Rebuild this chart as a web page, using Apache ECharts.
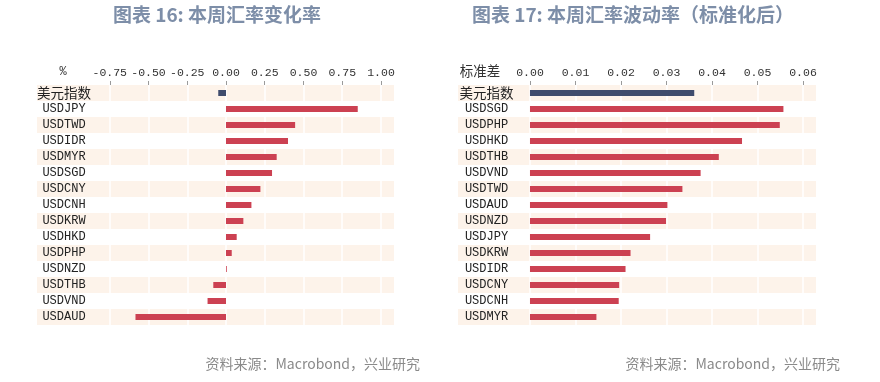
<!DOCTYPE html>
<html>
<head>
<meta charset="utf-8">
<script src="https://cdn.jsdelivr.net/npm/echarts@6/dist/echarts.min.js"></script>
<style>html,body{margin:0;padding:0;background:#fff}#c{width:880px;height:382px}</style>
</head>
<body>
<div id="c"></div>
<script>
// Chart 16: weekly FX change (%)
const changeCategories = ['美元指数','USDJPY','USDTWD','USDIDR','USDMYR','USDSGD','USDCNY','USDCNH','USDKRW','USDHKD','USDPHP','USDNZD','USDTHB','USDVND','USDAUD'];
const changeValues = [-0.05, 0.85, 0.446, 0.40, 0.327, 0.297, 0.222, 0.164, 0.112, 0.069, 0.037, 0.005, -0.082, -0.119, -0.584];
const changeTicks = [-0.75, -0.5, -0.25, 0, 0.25, 0.5, 0.75, 1.0];

// Chart 17: weekly FX volatility (standardized)
const volCategories = ['美元指数','USDSGD','USDPHP','USDHKD','USDTHB','USDVND','USDTWD','USDAUD','USDNZD','USDJPY','USDKRW','USDIDR','USDCNY','USDCNH','USDMYR'];
const volValues = [0.0361, 0.0557, 0.0549, 0.0466, 0.0415, 0.0375, 0.0335, 0.0302, 0.0299, 0.0264, 0.0221, 0.0210, 0.0196, 0.0195, 0.0146];
const volTicks = [0, 0.01, 0.02, 0.03, 0.04, 0.05, 0.06];

const NAVY = '#3f4c6d', RED = '#cc4152', BAND = '#fdf3ea';
const LBL_FONT = "'Liberation Mono','DejaVu Sans Mono','Noto Sans CJK SC',monospace";
const CJK_FONT = "'Noto Sans CJK SC',sans-serif";

function xAxisCfg(gridIndex, min, max, ticks, fmt) {
  return {
    type: 'value', gridIndex, position: 'top', min, max, z: 1,
    axisLine: { show: false },
    axisTick: { show: true, customValues: ticks, length: 4, lineStyle: { color: '#9a9a9a' } },
    axisLabel: { customValues: ticks, formatter: v => v.toFixed(fmt), fontSize: 11.5, color: '#333', margin: 6, fontFamily: LBL_FONT },
    splitLine: { show: true, lineStyle: { color: '#ffffff', width: 1.5 } }
  };
}
function yAxisCfg(gridIndex, cats, margin) {
  return {
    type: 'category', gridIndex, data: cats, inverse: true, z: 0,
    axisLine: { show: false }, axisTick: { show: false, interval: 0 },
    axisLabel: {
      interval: 0, inside: true, align: 'center', margin, fontSize: 12, color: '#222', fontFamily: LBL_FONT,
      formatter: v => (/^[A-Z]/.test(v) ? v : '{c|' + v + '}'),
      rich: { c: { fontSize: 13.5, fontFamily: CJK_FONT, color: '#222' } }
    },
    splitArea: { show: true, interval: 0, areaStyle: { color: [BAND, '#ffffff'] } },
    splitLine: { show: false }
  };
}
const colorFn = p => (p.dataIndex === 0 ? NAVY : RED);

const chart = echarts.init(document.getElementById('c'), null, { renderer: 'canvas' });
chart.setOption({
  animation: false,
  backgroundColor: '#fff',
  title: [
    { text: '图表 16: 本周汇率变化率', left: 217, top: 5, padding: 0, textAlign: 'center', textStyle: { fontSize: 19, fontWeight: 'bold', color: '#7d8ea8', fontFamily: CJK_FONT } },
    { text: '图表 17: 本周汇率波动率（标准化后）', left: 633, top: 5, padding: 0, textAlign: 'center', textStyle: { fontSize: 19, fontWeight: 'bold', color: '#7d8ea8', fontFamily: CJK_FONT } },
    { text: '%', left: 63, top: 66, padding: 0, textAlign: 'center', textStyle: { fontSize: 12, fontWeight: 'normal', color: '#333', fontFamily: LBL_FONT } },
    { text: '标准差', left: 480, top: 64, padding: 0, textAlign: 'center', textStyle: { fontSize: 13.5, fontWeight: 'normal', color: '#333', fontFamily: CJK_FONT } },
    { text: '资料来源：Macrobond，兴业研究', right: 460, top: 357, padding: 0, textStyle: { fontSize: 14, fontWeight: 'normal', color: '#8a8a8a', fontFamily: CJK_FONT } },
    { text: '资料来源：Macrobond，兴业研究', right: 40, top: 357, padding: 0, textStyle: { fontSize: 14, fontWeight: 'normal', color: '#8a8a8a', fontFamily: CJK_FONT } }
  ],
  grid: [
    { left: 37, right: 486, top: 85, height: 240 },
    { left: 458, right: 64, top: 85, height: 240 }
  ],
  xAxis: [
    xAxisCfg(0, -1.2194, 1.0839, changeTicks, 2),
    xAxisCfg(1, -0.01582, 0.06286, volTicks, 2)
  ],
  yAxis: [
    yAxisCfg(0, changeCategories, 27),
    yAxisCfg(1, volCategories, 28.5)
  ],
  series: [
    { type: 'bar', xAxisIndex: 0, yAxisIndex: 0, data: changeValues, barWidth: 6, itemStyle: { color: colorFn } },
    { type: 'bar', xAxisIndex: 1, yAxisIndex: 1, data: volValues, barWidth: 6, itemStyle: { color: colorFn } }
  ]
});
</script>
</body>
</html>
